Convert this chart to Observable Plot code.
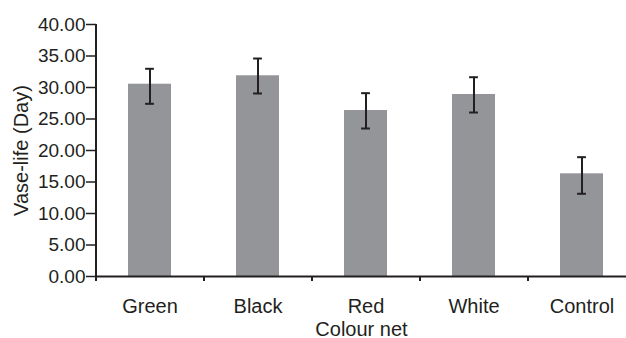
<!DOCTYPE html>
<html>
<head>
<meta charset="utf-8">
<script src="https://cdn.jsdelivr.net/npm/d3@7"></script>
<script src="https://cdn.jsdelivr.net/npm/@observablehq/plot@0.6"></script>
<style>
  html, body { margin: 0; padding: 0; background: #ffffff; }
</style>
</head>
<body>
<div id="chart"></div>
<script>
const categories = ["Green", "Black", "Red", "White", "Control"];
const means = [30.52, 31.86, 26.35, 28.89, 16.30];
const upper = [32.97, 34.60, 29.10, 31.63, 18.94];
const lower = [27.41, 29.05, 23.49, 26.03, 13.13];
const yTicks = [0, 5, 10, 15, 20, 25, 30, 35, 40];
const xTitle = "Colour net";
const yTitle = "Vase-life (Day)";

const data = categories.map((c, i) => ({cat: c, mean: means[i], hi: upper[i], lo: lower[i]}));

const W = 626, H = 338;
const mL = 96, mT = 24, mB = 62;
const xRange = [mL, 636];
const halfStep = (xRange[1] - xRange[0]) / categories.length / 2;
const bandwidth = halfStep * 2 * 0.4;
const capInset = (bandwidth - 9) / 2;
const ink = "#231f20";

const chart = Plot.plot({
  width: W,
  height: H,
  marginLeft: mL,
  marginTop: mT,
  marginBottom: mB,
  marginRight: 0,
  style: {fontFamily: "'Liberation Sans', Arial, sans-serif", fontSize: "19px", color: ink, background: "#ffffff"},
  x: {domain: categories, range: xRange, paddingInner: 0.6, paddingOuter: 0.3, axis: null},
  y: {domain: [0, 40], axis: null},
  marks: [
    Plot.barY(data, {x: "cat", y: "mean", fill: "#939598"}),
    Plot.ruleX(data, {x: "cat", y1: "lo", y2: "hi", stroke: ink, strokeWidth: 2}),
    Plot.tickY(data, {x: "cat", y: "hi", stroke: ink, strokeWidth: 2, insetLeft: capInset, insetRight: capInset}),
    Plot.tickY(data, {x: "cat", y: "lo", stroke: ink, strokeWidth: 2, insetLeft: capInset, insetRight: capInset}),
    Plot.axisY({ticks: yTicks, tickFormat: d => d.toFixed(2), tickSize: 10, tickPadding: 1, label: null, fontSize: 19, stroke: ink, strokeWidth: 1.5}),
    Plot.axisX({tickSize: 0, tickPadding: 22, label: null, fontSize: 20}),
    Plot.ruleX(categories, {x: d => d, y1: 0, y2: -0.8, dx: -halfStep, stroke: ink, strokeWidth: 2}),
    Plot.ruleX([categories[0]], {x: d => d, y1: 0, y2: 40, dx: -halfStep, stroke: ink, strokeWidth: 2}),
    Plot.ruleY([0], {stroke: ink, strokeWidth: 2}),
    Plot.text([yTitle], {frameAnchor: "left", textAnchor: "middle", lineAnchor: "middle", rotate: -90, dx: -75, fontSize: 20, fill: ink}),
    Plot.text([xTitle], {frameAnchor: "bottom", textAnchor: "middle", lineAnchor: "middle", dy: 53, fontSize: 20, fill: ink})
  ]
});
document.getElementById("chart").appendChild(chart);
</script>
</body>
</html>
